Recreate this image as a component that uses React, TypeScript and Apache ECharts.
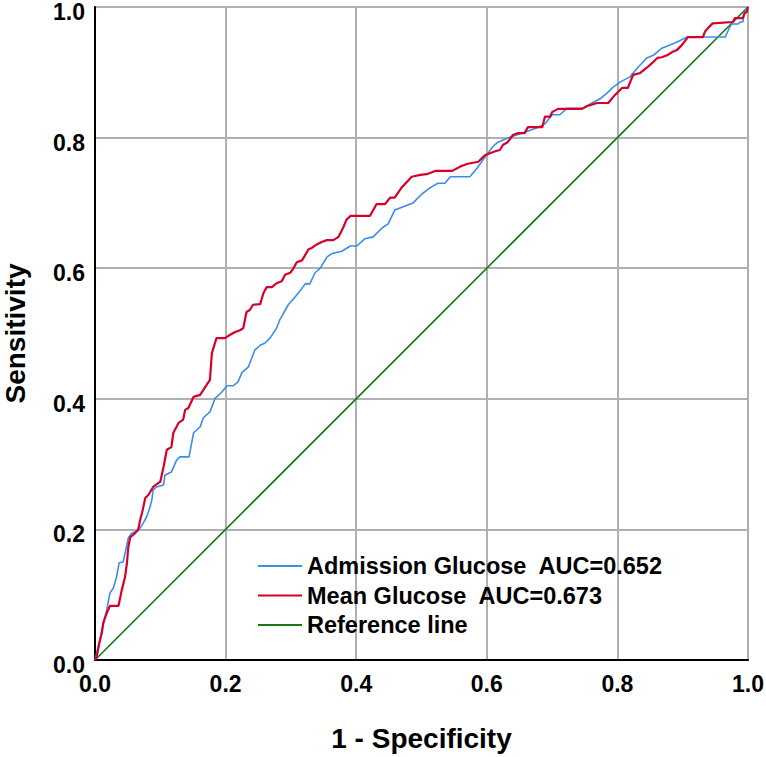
import React, { useEffect, useRef } from "react";
import * as echarts from "echarts";

// 1 - Specificity (x) and Sensitivity (y) for each ROC curve
const admissionX = [0, 0.0026, 0.0077, 0.0118, 0.018, 0.023, 0.028, 0.033, 0.037, 0.043, 0.047, 0.051, 0.056, 0.061, 0.069, 0.074, 0.079, 0.084, 0.087, 0.089, 0.094, 0.105, 0.107, 0.117, 0.125, 0.13, 0.144, 0.151, 0.161, 0.166, 0.176, 0.184, 0.194, 0.202, 0.212, 0.219, 0.225, 0.235, 0.245, 0.253, 0.26, 0.268, 0.278, 0.283, 0.296, 0.309, 0.322, 0.329, 0.337, 0.345, 0.355, 0.362, 0.378, 0.391, 0.401, 0.413, 0.426, 0.44, 0.449, 0.459, 0.487, 0.501, 0.513, 0.525, 0.536, 0.544, 0.574, 0.585, 0.597, 0.609, 0.617, 0.636, 0.655, 0.677, 0.689, 0.7, 0.712, 0.723, 0.747, 0.761, 0.773, 0.784, 0.793, 0.804, 0.819, 0.832, 0.845, 0.855, 0.868, 0.888, 0.907, 0.965, 0.972, 0.975, 0.985, 0.988, 0.992, 0.994, 0.997, 1];
const admissionY = [0, 0.011, 0.031, 0.051, 0.077, 0.103, 0.11, 0.127, 0.149, 0.15, 0.168, 0.187, 0.194, 0.196, 0.202, 0.21, 0.219, 0.233, 0.245, 0.26, 0.265, 0.268, 0.283, 0.288, 0.306, 0.311, 0.311, 0.348, 0.357, 0.371, 0.38, 0.401, 0.41, 0.42, 0.42, 0.426, 0.44, 0.449, 0.475, 0.482, 0.485, 0.493, 0.508, 0.521, 0.544, 0.559, 0.576, 0.576, 0.593, 0.6, 0.617, 0.622, 0.626, 0.634, 0.634, 0.645, 0.648, 0.662, 0.668, 0.689, 0.7, 0.714, 0.723, 0.73, 0.73, 0.74, 0.74, 0.753, 0.77, 0.786, 0.793, 0.801, 0.807, 0.815, 0.821, 0.835, 0.835, 0.845, 0.845, 0.853, 0.859, 0.868, 0.877, 0.885, 0.893, 0.908, 0.922, 0.926, 0.937, 0.945, 0.954, 0.954, 0.969, 0.974, 0.974, 0.977, 0.977, 0.988, 0.998, 1];

const meanX = [0, 0.0026, 0.0066, 0.0103, 0.0127, 0.018, 0.023, 0.036, 0.041, 0.046, 0.049, 0.051, 0.054, 0.061, 0.066, 0.069, 0.072, 0.077, 0.082, 0.089, 0.1, 0.105, 0.11, 0.117, 0.12, 0.128, 0.135, 0.138, 0.143, 0.151, 0.161, 0.176, 0.179, 0.186, 0.199, 0.207, 0.214, 0.222, 0.227, 0.232, 0.237, 0.242, 0.253, 0.258, 0.263, 0.271, 0.278, 0.286, 0.291, 0.299, 0.304, 0.309, 0.317, 0.327, 0.332, 0.339, 0.347, 0.355, 0.365, 0.373, 0.38, 0.385, 0.391, 0.421, 0.431, 0.444, 0.452, 0.459, 0.47, 0.485, 0.498, 0.508, 0.521, 0.547, 0.562, 0.571, 0.587, 0.597, 0.613, 0.62, 0.625, 0.632, 0.64, 0.648, 0.658, 0.663, 0.685, 0.689, 0.697, 0.7, 0.709, 0.746, 0.753, 0.769, 0.786, 0.796, 0.807, 0.816, 0.824, 0.835, 0.845, 0.853, 0.861, 0.868, 0.876, 0.884, 0.891, 0.899, 0.908, 0.931, 0.934, 0.939, 0.946, 0.977, 0.98, 0.992, 0.995, 0.998, 1];
const meanY = [0, 0.0051, 0.026, 0.041, 0.057, 0.072, 0.083, 0.083, 0.107, 0.127, 0.149, 0.173, 0.188, 0.194, 0.199, 0.214, 0.225, 0.248, 0.253, 0.265, 0.273, 0.296, 0.322, 0.326, 0.348, 0.363, 0.368, 0.383, 0.386, 0.403, 0.406, 0.429, 0.47, 0.493, 0.493, 0.498, 0.502, 0.505, 0.508, 0.533, 0.536, 0.544, 0.545, 0.562, 0.571, 0.571, 0.577, 0.58, 0.59, 0.593, 0.6, 0.609, 0.612, 0.629, 0.631, 0.636, 0.64, 0.643, 0.643, 0.648, 0.662, 0.674, 0.68, 0.68, 0.698, 0.698, 0.708, 0.708, 0.724, 0.74, 0.743, 0.744, 0.749, 0.749, 0.757, 0.76, 0.763, 0.773, 0.779, 0.781, 0.789, 0.793, 0.804, 0.807, 0.807, 0.816, 0.816, 0.832, 0.832, 0.839, 0.844, 0.844, 0.848, 0.853, 0.853, 0.865, 0.876, 0.876, 0.896, 0.899, 0.907, 0.914, 0.922, 0.923, 0.926, 0.931, 0.934, 0.942, 0.954, 0.954, 0.962, 0.968, 0.975, 0.977, 0.983, 0.983, 0.991, 0.992, 1];

const referenceX = [0, 1];
const referenceY = [0, 1];

const seriesNames = ["Admission Glucose  AUC=0.652", "Mean Glucose  AUC=0.673", "Reference line"];
const tickValues = [0, 0.2, 0.4, 0.6, 0.8, 1.0];

const zip = (xs: number[], ys: number[]) => xs.map((x, i) => [x, ys[i]]);

export default function App() {
  const ref = useRef<HTMLDivElement>(null);
  useEffect(() => {
    document.body.style.margin = "0";
    const chart = echarts.init(ref.current!, null, { renderer: "svg" });
    const font = "'Liberation Sans', Arial, sans-serif";
    const axisCommon = {
      type: "value" as const,
      min: tickValues[0],
      max: tickValues[tickValues.length - 1],
      interval: 0.2,
      nameLocation: "middle" as const,
      nameTextStyle: { fontFamily: font, fontWeight: "bold" as const, fontSize: 28, color: "#000" },
      axisTick: { show: false },
      splitLine: { show: true, lineStyle: { color: "#b0b0b0", width: 2 } },
      axisLine: { show: true, lineStyle: { color: "#000", width: 2 } },
    };
    chart.setOption({
      animation: false,
      backgroundColor: "#fff",
      grid: {
        left: 95, right: 18, top: 7, bottom: 97, show: true, borderColor: "#b0b0b0", borderWidth: 2,
        outerBoundsMode: "none", containLabel: false,
      },
      legend: {
        orient: "vertical",
        left: 258,
        top: 554,
        padding: 0,
        itemWidth: 44,
        itemHeight: 2,
        itemGap: 5.5,
        icon: "rect",
        textStyle: { fontFamily: font, fontWeight: "bold", fontSize: 23.5, lineHeight: 24, color: "#000" },
        data: seriesNames,
      },
      xAxis: {
        ...axisCommon,
        name: "1 - Specificity",
        nameGap: 64,
        axisLabel: {
          fontFamily: font, fontWeight: "bold", fontSize: 23, color: "#000", margin: 12,
          formatter: (v: number) => v.toFixed(1),
        },
      },
      yAxis: {
        ...axisCommon,
        name: "Sensitivity",
        nameGap: 66,
        axisLabel: {
          fontFamily: font, fontWeight: "bold", fontSize: 23, lineHeight: 10, verticalAlign: "top",
          color: "#000", margin: 10,
          formatter: (v: number) => v.toFixed(1),
        },
      },
      series: [
        {
          name: seriesNames[0], type: "line", showSymbol: false, symbol: "none",
          data: zip(admissionX, admissionY),
          lineStyle: { color: "#3a8ee8", width: 1.6 }, itemStyle: { color: "#3a8ee8" }, z: 3,
        },
        {
          name: seriesNames[1], type: "line", showSymbol: false, symbol: "none",
          data: zip(meanX, meanY),
          lineStyle: { color: "#d6002a", width: 2.2 }, itemStyle: { color: "#d6002a" }, z: 4,
        },
        {
          name: seriesNames[2], type: "line", showSymbol: false, symbol: "none",
          data: zip(referenceX, referenceY),
          lineStyle: { color: "#0f7a12", width: 1.6 }, itemStyle: { color: "#0f7a12" }, z: 2,
        },
      ],
    });
    return () => chart.dispose();
  }, []);
  return <div ref={ref} style={{ width: 766, height: 757 }} />;
}
